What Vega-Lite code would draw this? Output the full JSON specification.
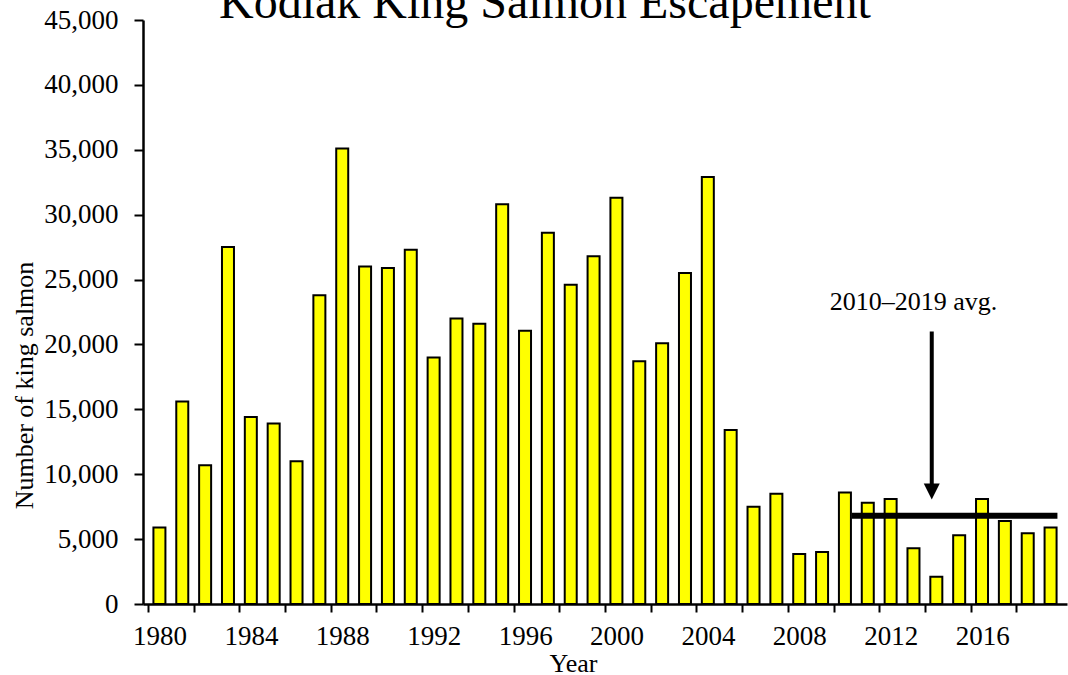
{
  "$schema": "https://vega.github.io/schema/vega-lite/v6.json",
  "width": 924,
  "height": 584,
  "autosize": {"type": "none"},
  "padding": {"left": 143, "top": 20, "right": 1, "bottom": 71},
  "background": "white",
  "title": {
    "text": "Kodiak King Salmon Escapement",
    "font": "Liberation Serif",
    "fontSize": 48,
    "fontWeight": "normal",
    "color": "black",
    "anchor": "middle",
    "frame": "group",
    "dx": -60,
    "baseline": "alphabetic",
    "offset": -60
  },
  "config": {
    "view": {"stroke": null},
    "font": "Liberation Serif"
  },
  "datasets": {
    "esc": [
      {"year": 1980, "value": 5900},
      {"year": 1981, "value": 15600},
      {"year": 1982, "value": 10700},
      {"year": 1983, "value": 27500},
      {"year": 1984, "value": 14400},
      {"year": 1985, "value": 13900},
      {"year": 1986, "value": 11000},
      {"year": 1987, "value": 23800},
      {"year": 1988, "value": 35100},
      {"year": 1989, "value": 26000},
      {"year": 1990, "value": 25900},
      {"year": 1991, "value": 27300},
      {"year": 1992, "value": 19000},
      {"year": 1993, "value": 22000},
      {"year": 1994, "value": 21600},
      {"year": 1995, "value": 30800},
      {"year": 1996, "value": 21050},
      {"year": 1997, "value": 28600},
      {"year": 1998, "value": 24600},
      {"year": 1999, "value": 26800},
      {"year": 2000, "value": 31300},
      {"year": 2001, "value": 18700},
      {"year": 2002, "value": 20100},
      {"year": 2003, "value": 25500},
      {"year": 2004, "value": 32900},
      {"year": 2005, "value": 13400},
      {"year": 2006, "value": 7500},
      {"year": 2007, "value": 8500},
      {"year": 2008, "value": 3850},
      {"year": 2009, "value": 4000},
      {"year": 2010, "value": 8600},
      {"year": 2011, "value": 7800},
      {"year": 2012, "value": 8100},
      {"year": 2013, "value": 4300},
      {"year": 2014, "value": 2100},
      {"year": 2015, "value": 5300},
      {"year": 2016, "value": 8100},
      {"year": 2017, "value": 6400},
      {"year": 2018, "value": 5450},
      {"year": 2019, "value": 5900}
    ],
    "avg": [{"year": 2010.3, "year2": 2019.3, "value": 6800}],
    "arrow": [{"year": 2013.8, "value": 21000, "value2": 8700}],
    "head": [{"year": 2013.8, "value": 8670}],
    "label": [{"year": 2013.0, "value": 22650, "text": "2010–2019 avg."}]
  },
  "layer": [
    {
      "data": {"name": "esc"},
      "mark": {"type": "bar", "width": 12, "fill": "#FFFF00", "stroke": "black", "strokeWidth": 2},
      "encoding": {
        "x": {
          "field": "year",
          "type": "quantitative",
          "title": "Year",
          "scale": {"domain": [1979.5, 2019.5], "nice": false, "zero": false},
          "axis": {
            "values": [1979.5, 1980.5, 1981.5, 1982.5, 1983.5, 1984.5, 1985.5, 1986.5, 1987.5, 1988.5, 1989.5, 1990.5, 1991.5, 1992.5, 1993.5, 1994.5, 1995.5, 1996.5, 1997.5, 1998.5, 1999.5, 2000.5, 2001.5, 2002.5, 2003.5, 2004.5, 2005.5, 2006.5, 2007.5, 2008.5, 2009.5, 2010.5, 2011.5, 2012.5, 2013.5, 2014.5, 2015.5, 2016.5, 2017.5, 2018.5],
            "labelExpr": "(datum.value + 0.5) % 4 === 0 ? format(datum.value + 0.5, 'd') : ''",
            "labelOffset": 11.55,
            "labelFlush": false,
            "labelBound": false,
            "labelOverlap": false,
            "labelFont": "Liberation Serif",
            "labelFontSize": 27,
            "labelColor": "black",
            "labelPadding": 11,
            "labelAngle": 0,
            "tickSize": 8,
            "tickWidth": 2,
            "tickColor": "black",
            "domainColor": "black",
            "domainWidth": 2.5,
            "grid": false,
            "titleFont": "Liberation Serif",
            "titleFontSize": 26,
            "titleFontWeight": "normal",
            "titleColor": "black",
            "titleX": 430,
            "titleY": 67,
            "titleBaseline": "alphabetic",
            "titleAlign": "center"
          }
        },
        "y": {
          "field": "value",
          "type": "quantitative",
          "title": "Number of king salmon",
          "scale": {"domain": [0, 45000], "nice": false},
          "axis": {
            "values": [0, 5000, 10000, 15000, 20000, 25000, 30000, 35000, 40000, 45000],
            "format": ",.0f",
            "labelFont": "Liberation Serif",
            "labelFontSize": 27,
            "labelColor": "black",
            "labelPadding": 16,
            "labelFlush": false,
            "labelBound": false,
            "labelOverlap": false,
            "tickSize": 9,
            "tickWidth": 2,
            "tickColor": "black",
            "domainColor": "black",
            "domainWidth": 2.5,
            "grid": false,
            "titleFont": "Liberation Serif",
            "titleFontSize": 26,
            "titleFontWeight": "normal",
            "titleColor": "black",
            "titleY": 365,
            "titlePadding": 6
          }
        }
      }
    },
    {
      "data": {"name": "avg"},
      "mark": {"type": "rule", "color": "black", "strokeWidth": 6, "strokeCap": "butt"},
      "encoding": {
        "x": {"field": "year", "type": "quantitative", "title": "Year"},
        "x2": {"field": "year2"},
        "y": {"field": "value", "type": "quantitative", "title": "Number of king salmon"}
      }
    },
    {
      "data": {"name": "arrow"},
      "mark": {"type": "rule", "color": "black", "strokeWidth": 4, "strokeCap": "butt"},
      "encoding": {
        "x": {"field": "year", "type": "quantitative", "title": "Year"},
        "y": {"field": "value", "type": "quantitative", "title": "Number of king salmon"},
        "y2": {"field": "value2"}
      }
    },
    {
      "data": {"name": "head"},
      "mark": {"type": "point", "shape": "M-1,-1L1,-1L0,1Z", "size": 256, "filled": true, "fill": "black", "opacity": 1, "strokeWidth": 0},
      "encoding": {
        "x": {"field": "year", "type": "quantitative", "title": "Year"},
        "y": {"field": "value", "type": "quantitative", "title": "Number of king salmon"}
      }
    },
    {
      "data": {"name": "label"},
      "mark": {"type": "text", "font": "Liberation Serif", "fontSize": 26, "color": "black", "align": "center", "baseline": "alphabetic"},
      "encoding": {
        "x": {"field": "year", "type": "quantitative", "title": "Year"},
        "y": {"field": "value", "type": "quantitative", "title": "Number of king salmon"},
        "text": {"field": "text"}
      }
    }
  ]
}
